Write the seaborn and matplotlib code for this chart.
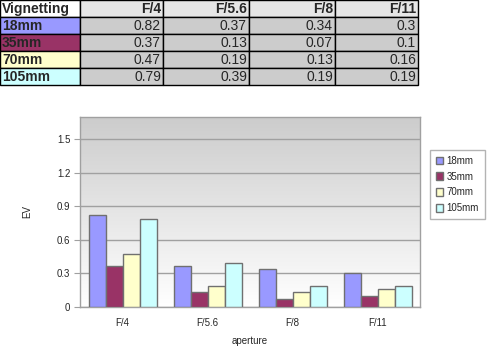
import numpy as np
import pandas as pd
import matplotlib
matplotlib.use("Agg")
import matplotlib.pyplot as plt
from matplotlib.patches import Rectangle
import seaborn as sns

# data
apertures = ["F/4", "F/5.6", "F/8", "F/11"]
lenses = ["18mm", "35mm", "70mm", "105mm"]
v18 = [0.82, 0.37, 0.34, 0.3]
v35 = [0.37, 0.13, 0.07, 0.1]
v70 = [0.47, 0.19, 0.13, 0.16]
v105 = [0.79, 0.39, 0.19, 0.19]
colors = ["#9999ff", "#993366", "#ffffcc", "#ccffff"]

sns.set_style("white")
plt.rcParams["font.family"] = ["Liberation Sans", "DejaVu Sans"]

series = [v18, v35, v70, v105]
rows = []
for lens, vals in zip(lenses, series):
    for ap, v in zip(apertures, vals):
        rows.append({"lens": lens, "aperture": ap, "EV": v})
df = pd.DataFrame(rows)

fig = plt.figure(figsize=(4.98, 3.6), dpi=100)

# ---- table on top, drawn in pixel space
tab = fig.add_axes([0, 0, 1, 1])
tab.set_xlim(0, 498)
tab.set_ylim(360, 0)
tab.axis("off")
col_edges = [0, 80, 163, 249, 335, 418]
row_h = 17
fs = 10
def cell(x0, x1, y0, fc):
    tab.add_patch(Rectangle((x0, y0), x1 - x0, row_h, facecolor=fc,
                            edgecolor="black", linewidth=1))
cell(col_edges[0], col_edges[1], 0, "white")
tab.text(2, row_h / 2 + 0.5, "Vignetting", fontsize=fs, fontweight="bold",
         va="center", ha="left")
for j, ap in enumerate(apertures):
    cell(col_edges[j + 1], col_edges[j + 2], 0, "#e6e6e6")
    tab.text(col_edges[j + 2] - 2, row_h / 2 + 0.5, ap, fontsize=fs,
             fontweight="bold", va="center", ha="right")
for i, (lens, vals) in enumerate(zip(lenses, series)):
    y0 = row_h * (i + 1)
    cell(col_edges[0], col_edges[1], y0, colors[i])
    tab.text(2, y0 + row_h / 2 + 0.5, lens, fontsize=fs, fontweight="bold",
             va="center", ha="left")
    for j, v in enumerate(vals):
        cell(col_edges[j + 1], col_edges[j + 2], y0, "#cccccc")
        tab.text(col_edges[j + 2] - 2, y0 + row_h / 2 + 0.5, f"{v:g}",
                 fontsize=fs, va="center", ha="right")

# ---- chart
ax = fig.add_axes([80 / 498, (360 - 307) / 360, 340 / 498, 190 / 360])
grad = np.linspace(1, 0, 256).reshape(-1, 1)
ax.imshow(grad, extent=[0, 1, 0, 1], transform=ax.transAxes, aspect="auto",
          cmap=matplotlib.colors.LinearSegmentedColormap.from_list(
              "bg", ["#ffffff", "#cccccc"]), vmin=0, vmax=1, zorder=0)

sns.barplot(data=df, x="aperture", y="EV", hue="lens", palette=colors,
            edgecolor="#707070", linewidth=1, saturation=1, width=0.8,
            ax=ax, zorder=3, legend=True)

ax.set_ylim(0, 1.7)
ax.set_xlim(-0.5, 3.5)
ax.set_yticks([0, 0.3, 0.6, 0.9, 1.2, 1.5])
ax.set_yticklabels(["0", "0.3", "0.6", "0.9", "1.2", "1.5"])
ax.yaxis.grid(True, color="#a0a0a0", linewidth=1, zorder=1)
ax.set_axisbelow(True)
for s in ax.spines.values():
    s.set_color("#a0a0a0")
    s.set_linewidth(1)
ax.set_xticks(np.arange(-0.5, 4, 1), minor=True)
ax.tick_params(axis="x", which="major", length=0, labelsize=7, pad=8)
ax.tick_params(axis="x", which="minor", length=5, color="#a0a0a0", width=1)
ax.tick_params(axis="y", length=4, color="#a0a0a0", labelsize=7, pad=3,
               left=True)
ax.set_xlabel("aperture", fontsize=7, labelpad=6)
ax.set_ylabel("EV", fontsize=7, labelpad=18)

handles, labels = ax.get_legend_handles_labels()
ax.get_legend().remove()
fig.legend(handles, labels, loc="upper left",
           bbox_to_anchor=(425 / 498, 1 - 145 / 360), fontsize=7,
           frameon=True, edgecolor="#a0a0a0", fancybox=False,
           handlelength=0.8, handleheight=0.8, handletextpad=0.3,
           labelspacing=0.6, borderpad=0.6)

fig.savefig("out.png", dpi=100)
